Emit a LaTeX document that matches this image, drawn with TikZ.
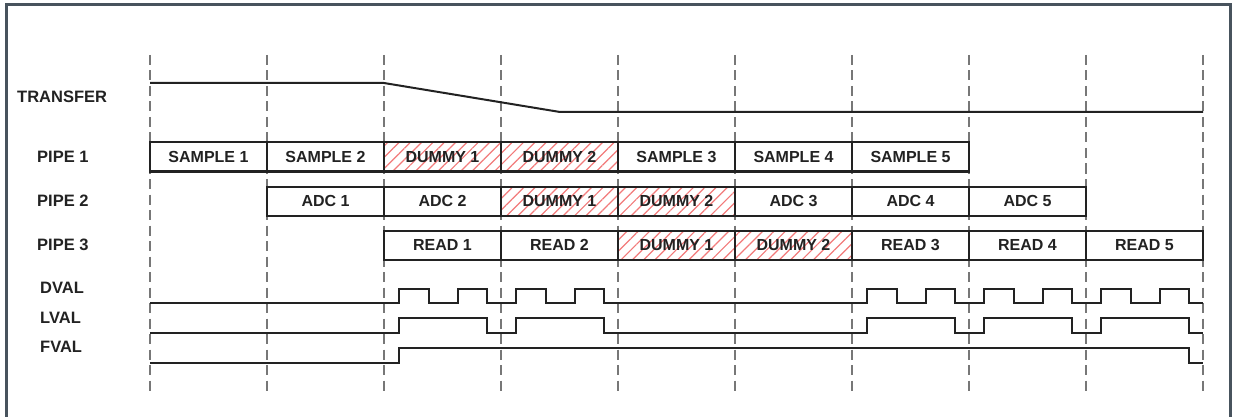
\documentclass[tikz,border=0pt]{standalone}
\usepackage{fontspec}
\setmainfont{Liberation Sans}
\usetikzlibrary{patterns.meta}
\definecolor{framegray}{HTML}{48535D}
\definecolor{hatchred}{HTML}{F27A7A}
\definecolor{guidegray}{HTML}{777777}
\definecolor{inkblack}{HTML}{222222}
\tikzset{
  guide/.style={guidegray, line width=1.8pt, dash pattern=on 10pt off 5.5pt},
  sig/.style={inkblack, line width=2pt},
  lbl/.style={anchor=west, inner sep=0pt, text=inkblack, font=\fontsize{16.5}{19}\selectfont\bfseries},
  slot/.style={draw=inkblack, line width=2pt, minimum width=117pt, minimum height=29pt,
    inner sep=0pt, text=inkblack, font=\fontsize{16}{19}\selectfont\bfseries},
  dummy/.style={slot, pattern={Lines[angle=45,distance=8pt,line width=1.2pt]}, pattern color=hatchred},
}
\begin{document}
\begin{tikzpicture}[x=1pt,y=-1pt]
    \useasboundingbox (0,0) rectangle (1237,417);
    \draw[framegray, line width=3.5pt] (6.5,417) -- (6.5,4.5) -- (1230.5,4.5) -- (1230.5,417);
    % time slots
    \foreach \i in {0,...,9}
        \draw[guide] ({150+117*\i},55) -- ({150+117*\i},392);
    % signal names
    \node[lbl] (transfer) at (17,97) {TRANSFER};
    \node[lbl] (pipe1) at (37,157) {PIPE 1};
    \node[lbl] (pipe2) at (37,201) {PIPE 2};
    \node[lbl] (pipe3) at (37,245) {PIPE 3};
    \node[lbl] (dval) at (40,288) {DVAL};
    \node[lbl] (lval) at (40,318) {LVAL};
    \node[lbl] (fval) at (40,347) {FVAL};
    % transfer
    \draw[sig] (150,83) -- (384,83) -- (560,112) -- (1203,112);
    % pipes
    \foreach \txt/\sty [count=\i] in {SAMPLE 1/slot, SAMPLE 2/slot, DUMMY 1/dummy, DUMMY 2/dummy,
        SAMPLE 3/slot, SAMPLE 4/slot, SAMPLE 5/slot}
        \node[\sty] (pa-\i) at ({150+117*\i-58.5},157) {\txt};
    \foreach \txt/\sty [count=\i] in {ADC 1/slot, ADC 2/slot, DUMMY 1/dummy, DUMMY 2/dummy,
        ADC 3/slot, ADC 4/slot, ADC 5/slot}
        \node[\sty] (pb-\i) at ({267+117*\i-58.5},201) {\txt};
    \foreach \txt/\sty [count=\i] in {READ 1/slot, READ 2/slot, DUMMY 1/dummy, DUMMY 2/dummy,
        READ 3/slot, READ 4/slot, READ 5/slot}
        \node[\sty] (pc-\i) at ({384+117*\i-58.5},245) {\txt};
    % dval
    \draw[sig] (150,303) \foreach \i in {2,3,6,7,8} {
        -- ({150+117*\i+15},303) -- ({150+117*\i+15},289) -- ({150+117*\i+45},289) -- ({150+117*\i+45},303)
        -- ({150+117*\i+74},303) -- ({150+117*\i+74},289) -- ({150+117*\i+103},289) -- ({150+117*\i+103},303)
        } -- (1203,303);
    % lval
    \draw[sig] (150,333) \foreach \i in {2,3,6,7,8} {
        -- ({150+117*\i+15},333) -- ({150+117*\i+15},318) -- ({150+117*\i+103},318) -- ({150+117*\i+103},333)
        } -- (1203,333);
    % fval
    \draw[sig] (150,363) -- (399,363) -- (399,348) -- (1189,348) -- (1189,363) -- (1203,363);
\end{tikzpicture}
\end{document}
